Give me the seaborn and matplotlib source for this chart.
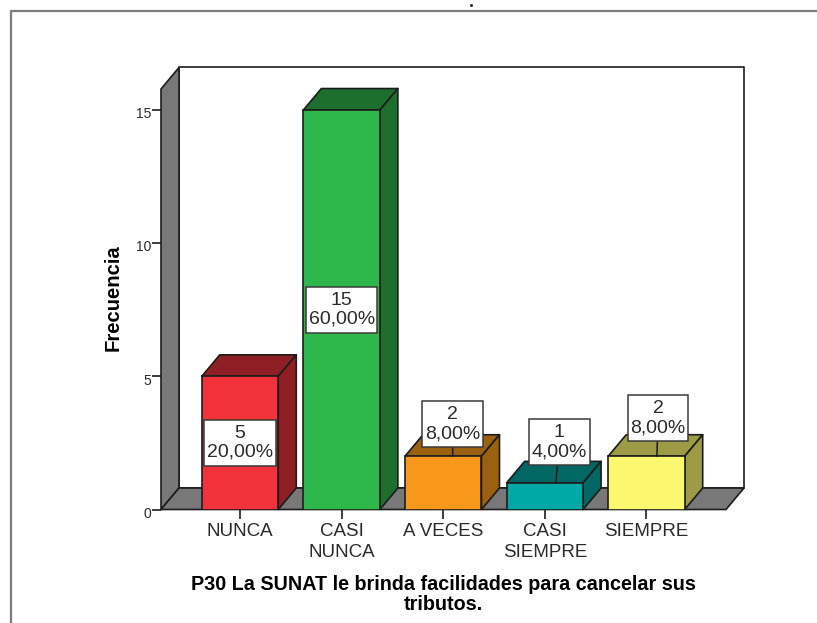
import matplotlib
matplotlib.use("Agg")
import matplotlib.pyplot as plt
import pandas as pd
import seaborn as sns
from matplotlib.lines import Line2D
from matplotlib.patches import Polygon
from matplotlib.path import Path
from matplotlib.transforms import ScaledTranslation

categories = ["NUNCA", "CASI\nNUNCA", "A VECES", "CASI\nSIEMPRE", "SIEMPRE"]
counts = [5, 15, 2, 1, 2]
percents = [20.0, 60.0, 8.0, 4.0, 8.0]
face_colors = ["#F2323A", "#2EB84B", "#F9991C", "#00A9A5", "#FBF76F"]
shade_colors = ["#8E1F24", "#1D6F2E", "#9C6011", "#006763", "#9D9B46"]
y_ticks = [0, 5, 10, 15]
x_title = "P30 La SUNAT le brinda facilidades para cancelar sus\ntributos."
y_title = "Frecuencia"

W, H = 817, 623
DPI = 100
EDGE = "#1c1c1c"
WALL = "#787878"
TEXT = "#2a2a2a"

sns.set_theme(style="white")
plt.rcParams["font.family"] = ["Liberation Sans", "DejaVu Sans"]

fig = plt.figure(figsize=(W / DPI, H / DPI), dpi=DPI, facecolor="white")
ax = fig.add_axes([161 / W, 1 - 509.5 / H, (726 - 161) / W, (509.5 - 89) / H])
ax.set_facecolor("none")

df = pd.DataFrame({"categoria": categories, "frecuencia": counts})
sns.barplot(
    data=df, x="categoria", y="frecuencia", hue="categoria", order=categories,
    hue_order=categories, palette=face_colors, width=0.753, legend=False,
    edgecolor=EDGE, linewidth=1.2, saturation=1, ax=ax, zorder=3,
)

ax.set_xlim(-0.7775, 4.783)
ax.set_ylim(0, 15.79)
ax.set_yticks(y_ticks)
sns.despine(ax=ax, left=True, bottom=True)

# Oblique depth of the pseudo-3D projection, in data units
px_x = 101.6
px_y = 26.63
depth_x = 18 / px_x
depth_y = 21.5 / px_y


def face(points, color, z):
    ax.add_patch(Polygon(points, closed=True, facecolor=color, edgecolor=EDGE,
                         linewidth=1.2, zorder=z, clip_on=False,
                         joinstyle="round"))


def label_box(x0, y0, width, height, mutation_size):
    """Rectangle around a label, with more padding above and below than at the sides."""
    pad_x, pad_y = 2.5, 5.0
    left, right = x0 - pad_x, x0 + width + pad_x
    bottom, top = y0 - pad_y, y0 + height + pad_y
    return Path([(left, bottom), (right, bottom), (right, top), (left, top), (left, bottom)],
                closed=True)


# Room: back wall, left wall and floor
x0, x1 = ax.get_xlim()
y1 = ax.get_ylim()[1]
face([(x0 + depth_x, depth_y), (x1 + depth_x, depth_y),
      (x1 + depth_x, y1 + depth_y), (x0 + depth_x, y1 + depth_y)], "white", 0.5)
face([(x0, 0), (x0 + depth_x, depth_y), (x0 + depth_x, y1 + depth_y), (x0, y1)], WALL, 1)
face([(x0, 0), (x1, 0), (x1 + depth_x, depth_y), (x0 + depth_x, depth_y)], WALL, 1)

# Top and side faces of every bar
for bar, shade in zip(ax.patches[:len(categories)], shade_colors):
    left = bar.get_x()
    right = left + bar.get_width()
    top = bar.get_height()
    face([(left, top), (right, top), (right + depth_x, top + depth_y),
          (left + depth_x, top + depth_y)], shade, 2.5)
    face([(right, 0), (right + depth_x, depth_y), (right + depth_x, top + depth_y),
          (right, top)], shade, 2.5)

# Value labels: tall bars hold theirs in the middle, short ones use a leader line
box = dict(boxstyle=label_box, facecolor="white", edgecolor="#3a3a3a", linewidth=1.1)
label_shift = {2: (9.25, 32), 3: (14.5, 40.5), 4: (11.5, 38)}
leader_shift = {2: 9.5, 3: 11, 4: 10.5}
for i, (count, pct) in enumerate(zip(counts, percents)):
    text = f"{count}\n{pct:.2f}%".replace(".", ",")
    if i in label_shift:
        dx, dy = label_shift[i]
        ax.annotate(text, xy=(i + leader_shift[i] / px_x, count),
                    xytext=((dx - leader_shift[i]) * 0.72, dy * 0.72),
                    textcoords="offset points",
                    ha="center", va="center", fontsize=14, color=TEXT,
                    linespacing=1.15, bbox=box, zorder=6, annotation_clip=False,
                    arrowprops=dict(arrowstyle="-", color=EDGE, lw=1.1,
                                    shrinkA=0, shrinkB=0))
    else:
        ax.text(i, count / 2, text, ha="center", va="center", fontsize=14,
                color=TEXT, linespacing=1.15, bbox=box, zorder=6)

ax.tick_params(axis="x", length=6.5, width=1.2, color=EDGE, pad=3.5, labelsize=13.5,
               labelcolor=TEXT, bottom=True)
ax.tick_params(axis="y", length=6.5, width=1.2, color=EDGE, pad=0.5, labelsize=10,
               labelcolor=TEXT, left=True)
for label in ax.get_xticklabels():
    label.set_linespacing(1.25)
for label in ax.get_yticklabels():
    label.set_transform(label.get_transform() + ScaledTranslation(0, -2 / 72, fig.dpi_scale_trans))

ax.set_xlabel(x_title, fontsize=14.2, fontweight="bold", color="black", linespacing=1.0,
              va="top")
ax.xaxis.set_label_coords(0.5, -(575.5 - 509.5) / (509.5 - 89))
ax.set_ylabel(y_title, fontsize=14.6, fontweight="bold", color="black", va="center")
ax.yaxis.set_label_coords((113.5 - 161) / (726 - 161), 0.505)

# Surrounding page frame and the small speck above it
fig.add_artist(Line2D([10.5 / W, 10.5 / W, 1], [0, 1 - 11 / H, 1 - 11 / H],
                      color="#7d7d7d", lw=1.6, transform=fig.transFigure))
fig.add_artist(Line2D([471 / W], [1 - 5 / H], marker="s", markersize=1.0, color="#222222",
                      linestyle="none", transform=fig.transFigure))

fig.savefig("out.png", dpi=DPI, facecolor="white")
